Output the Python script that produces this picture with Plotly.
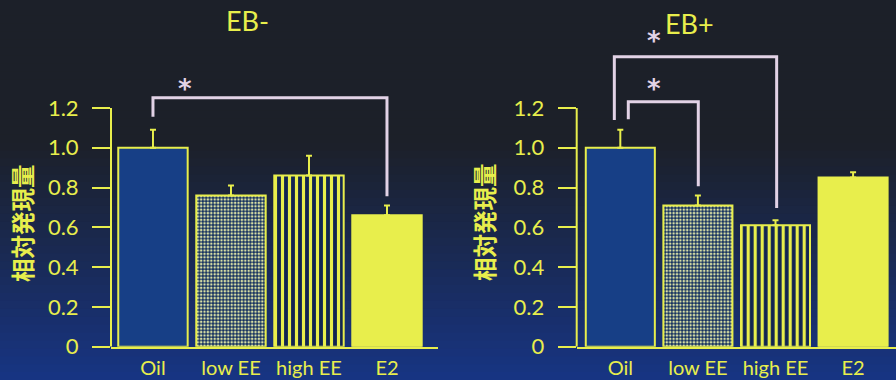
import plotly.graph_objects as go

# Relative expression by treatment, without (EB-) and with (EB+) estradiol benzoate
categories = ["Oil", "low EE", "high EE", "E2"]
eb_minus_mean = [1.0, 0.76, 0.86, 0.66]
eb_minus_sem = [0.09, 0.05, 0.10, 0.05]
eb_plus_mean = [1.0, 0.71, 0.61, 0.85]
eb_plus_sem = [0.09, 0.05, 0.025, 0.027]
y_ticks = [0, 0.2, 0.4, 0.6, 0.8, 1.0, 1.2]
y_ticklabels = ["0", "0.2", "0.4", "0.6", "0.8", "1.0", "1.2"]
panel_titles = ["EB-", "EB+"]
y_title = "相対発現量"

# significance comparisons: (group a, group b)
eb_minus_pairs = [(0, 3)]
eb_plus_pairs = [(0, 1), (0, 2)]

YELLOW = "#e8ee4c"
BLUE = "#173f86"
NAVY = "#112451"
BRACKET = "#e2d2e6"
FONT = "Lato"

W, H = 896, 380


def px_x(p):
    return p / W


def px_y(p):
    return 1 - p / H


fig = go.Figure()

# vertical background gradient (dark at the top, blue at the bottom)
top_c = (28, 32, 41)
bot_c = (23, 53, 133)
n_bands = 48
for i in range(n_bands):
    y0 = i * H / n_bands
    y1 = (i + 1) * H / n_bands
    t = max(0.0, (y0 - 140) / (H - 140))
    c = tuple(int(round(top_c[k] + (bot_c[k] - top_c[k]) * t)) for k in range(3))
    fig.add_shape(type="rect", xref="paper", yref="paper",
                  x0=0, x1=1, y0=max(0, px_y(y1) - 0.002), y1=px_y(y0),
                  fillcolor="rgb(%d,%d,%d)" % c, line_width=0, layer="below")

# per-category fill styles: solid blue, dotted, vertical stripes, solid yellow
bar_styles = [
    dict(color=BLUE),
    dict(color="#15315f", pattern=dict(shape=".", fgcolor="#d8dea4", bgcolor="#15315f",
                                       size=3.4, solidity=0.45, fillmode="replace")),
    dict(color=NAVY, pattern=dict(shape="|", fgcolor=YELLOW, bgcolor=NAVY,
                                  size=7, solidity=0.45, fillmode="replace")),
    dict(color=YELLOW),
]

for idx, (mean, sem) in enumerate([(eb_minus_mean, eb_minus_sem),
                                   (eb_plus_mean, eb_plus_sem)]):
    xa = "x" if idx == 0 else "x2"
    ya = "y" if idx == 0 else "y2"
    for j, cat in enumerate(categories):
        fig.add_trace(go.Bar(
            x=[j], y=[mean[j]], width=0.89, name=cat,
            marker=dict(bar_styles[j], line=dict(color=YELLOW, width=2)),
            error_y=dict(type="data", symmetric=False, array=[sem[j]],
                         arrayminus=[0], color=YELLOW, thickness=2, width=3),
            xaxis=xa, yaxis=ya, showlegend=False, hoverinfo="skip",
        ))

Y_MAX = 1.62
y_dom = [px_y(346.7), px_y(346.7 - 199 * Y_MAX)]
axis_common = dict(
    range=[0, Y_MAX], tickvals=y_ticks, ticktext=y_ticklabels,
    showline=False, showgrid=False, zeroline=False, automargin=False,
    ticks="outside", ticklen=18, tickwidth=2, tickcolor=YELLOW,
    tickfont=dict(family=FONT, size=22, color=YELLOW),
    ticklabelstandoff=9, domain=y_dom,
)
x_common = dict(
    tickvals=list(range(len(categories))), ticktext=categories,
    showline=True, linecolor=YELLOW, linewidth=2, ticks="",
    showgrid=False, zeroline=False, automargin=False,
    tickfont=dict(family=FONT, size=20, color=YELLOW),
    ticklabelstandoff=2,
)

fig.update_layout(
    width=W, height=H, margin=dict(l=0, r=0, t=0, b=0, autoexpand=False),
    paper_bgcolor="rgb(28,32,41)", plot_bgcolor="rgba(0,0,0,0)",
    barmode="overlay",
    xaxis=dict(x_common, domain=[px_x(111), px_x(438)], range=[-0.538, 3.654],
               anchor="y"),
    yaxis=dict(axis_common, anchor="x"),
    xaxis2=dict(x_common, domain=[px_x(576.7), 1.0], range=[-0.562, 3.553],
                anchor="y2"),
    yaxis2=dict(axis_common, anchor="x2"),
)

# y axis lines, drawn only from 0 up to the top tick
for xd, ya in [("x domain", "y"), ("x2 domain", "y2")]:
    fig.add_shape(type="line", xref=xd, yref=ya, x0=0, x1=0,
                  y0=0, y1=y_ticks[-1], line=dict(color=YELLOW, width=2))


def bracket(xa, ya, a, b, y_a, y_top, y_b):
    fig.add_shape(type="path", xref=xa, yref=ya,
                  path="M %f,%f L %f,%f L %f,%f L %f,%f" % (a, y_a, a, y_top, b, y_top, b, y_b),
                  line=dict(color=BRACKET, width=3))


def star(xa, ya, x, y):
    fig.add_annotation(xref=xa, yref=ya, x=x, y=y, text="*", showarrow=False,
                       font=dict(family="DejaVu Sans", size=26, color=BRACKET,
                                 weight="bold"),
                       yanchor="middle", xanchor="center", yshift=-4)


# EB- : Oil vs E2
a, b = eb_minus_pairs[0]
bracket("x", "y", a, b, eb_minus_mean[a] + eb_minus_sem[a] + 0.066, 1.251,
        eb_minus_mean[b] + eb_minus_sem[b] + 0.046)
star("x", "y", 0.41, 1.315)

# EB+ : Oil vs low EE (inner), Oil vs high EE (outer)
a, b = eb_plus_pairs[0]
bracket("x2", "y2", a + 0.103, b + 0.005, eb_plus_mean[a] + eb_plus_sem[a] + 0.053, 1.231,
        eb_plus_mean[b] + eb_plus_sem[b] + 0.046)
star("x2", "y2", 0.434, 1.315)
a, b = eb_plus_pairs[1]
bracket("x2", "y2", a - 0.077, b + 0.015, eb_plus_mean[a] + eb_plus_sem[a] + 0.049, 1.457,
        eb_plus_mean[b] + eb_plus_sem[b] + 0.062)
star("x2", "y2", 0.434, 1.558)

# panel titles
for (px, py), title in zip([(247, 21), (689, 24)], panel_titles):
    fig.add_annotation(xref="paper", yref="paper", x=px_x(px), y=px_y(py),
                       text=title, showarrow=False, xanchor="center", yanchor="middle",
                       font=dict(family=FONT, size=27, color=YELLOW))

# y axis titles
for px, py in [(22, 223), (484, 222)]:
    fig.add_annotation(xref="paper", yref="paper", x=px_x(px), y=px_y(py),
                       text=y_title, textangle=-90, showarrow=False,
                       xanchor="center", yanchor="middle",
                       font=dict(family="Noto Sans CJK JP", size=23.5, color=YELLOW,
                                 weight="bold"))

fig.write_html("out.html")
